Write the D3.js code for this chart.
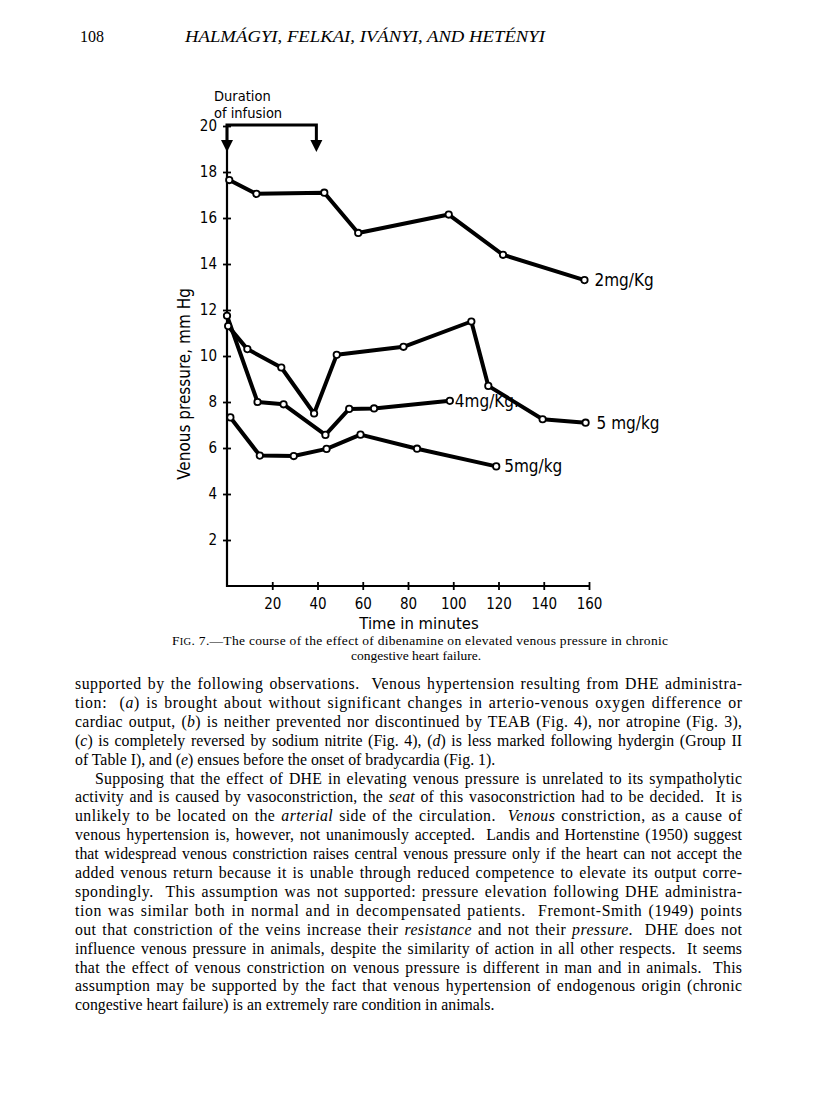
<!DOCTYPE html>
<html>
<head>
<meta charset="utf-8">
<script src="https://cdn.jsdelivr.net/npm/d3@7"></script>
<style>
  body { margin: 0; background: #fff; }
  svg { display: block; }
</style>
</head>
<body>
<div id="page"></div>
<script>
// data
const seriesNames = ["2mg/Kg", "5 mg/kg", "4mg/Kg.", "5mg/kg"];
const timesA = [1, 13, 43, 58, 98, 122, 158];
const valuesA = [17.65, 17.05, 17.1, 15.35, 16.15, 14.4, 13.3];
const timesB = [0.5, 9, 24, 38.5, 48.5, 78, 108, 115.5, 139.5, 158.5];
const valuesB = [11.3, 10.3, 9.5, 7.5, 10.05, 10.4, 11.5, 8.7, 7.25, 7.1];
const timesC = [0, 13.5, 25, 43.5, 54, 65, 98.5];
const valuesC = [11.75, 8.0, 7.9, 6.57, 7.7, 7.72, 8.05];
const timesD = [1.5, 14.5, 29.5, 44, 59, 84, 119];
const valuesD = [7.33, 5.67, 5.65, 5.96, 6.58, 5.97, 5.2];
const xTicks = [20, 40, 60, 80, 100, 120, 140, 160];
const yTicks = [2, 4, 6, 8, 10, 12, 14, 16, 18, 20];
const infusion = [0, 39.5];

const bodyLines = [
  "supported by the following observations.  Venous hypertension resulting from DHE administra-",
  "tion:  (<i>a</i>) is brought about without significant changes in arterio-venous oxygen difference or",
  "cardiac output, (<i>b</i>) is neither prevented nor discontinued by TEAB (Fig. 4), nor atropine (Fig. 3),",
  "(<i>c</i>) is completely reversed by sodium nitrite (Fig. 4), (<i>d</i>) is less marked following hydergin (Group II",
  "of Table I), and (<i>e</i>) ensues before the onset of bradycardia (Fig. 1).",
  "Supposing that the effect of DHE in elevating venous pressure is unrelated to its sympatholytic",
  "activity and is caused by vasoconstriction, the <i>seat</i> of this vasoconstriction had to be decided.  It is",
  "unlikely to be located on the <i>arterial</i> side of the circulation.  <i>Venous</i> constriction, as a cause of",
  "venous hypertension is, however, not unanimously accepted.  Landis and Hortenstine (1950) suggest",
  "that widespread venous constriction raises central venous pressure only if the heart can not accept the",
  "added venous return because it is unable through reduced competence to elevate its output corre-",
  "spondingly.  This assumption was not supported: pressure elevation following DHE administra-",
  "tion was similar both in normal and in decompensated patients.  Fremont-Smith (1949) points",
  "out that constriction of the veins increase their <i>resistance</i> and not their <i>pressure</i>.  DHE does not",
  "influence venous pressure in animals, despite the similarity of action in all other respects.  It seems",
  "that the effect of venous constriction on venous pressure is different in man and in animals.  This",
  "assumption may be supported by the fact that venous hypertension of endogenous origin (chronic",
  "congestive heart failure) is an extremely rare condition in animals."
];
const lastLines = [4, 17];
const indentLines = [5];

const series = [
  { name: seriesNames[0], t: timesA, v: valuesA, dx: 10, dy: 1 },
  { name: seriesNames[1], t: timesB, v: valuesB, dx: 11, dy: 1 },
  { name: seriesNames[2], t: timesC, v: valuesC, dx: 5, dy: 1 },
  { name: seriesNames[3], t: timesD, v: valuesD, dx: 8, dy: 1 }
];

const W = 816, H = 1116;
const svg = d3.select('#page').append('svg')
  .attr('width', W).attr('height', H)
  .attr('viewBox', `0 0 ${W} ${H}`);
svg.append('rect').attr('width', W).attr('height', H).attr('fill', '#fff');

const serif = "'Liberation Serif', 'Times New Roman', serif";
const hand = "'DejaVu Sans Condensed', 'DejaVu Sans', sans-serif";

// running head
svg.append('text')
  .attr('x', 80).attr('y', 42)
  .attr('font-family', serif).attr('font-size', 16)
  .text('108');
svg.append('text')
  .attr('x', 185).attr('y', 42)
  .attr('font-family', serif).attr('font-size', 16.5)
  .attr('font-style', 'italic')
  .attr('textLength', 360).attr('lengthAdjust', 'spacingAndGlyphs')
  .text('HALMÁGYI, FELKAI, IVÁNYI, AND HETÉNYI');

// scales
const x = d3.scaleLinear().domain([0, 160]).range([227, 589]);
const y = d3.scaleLinear().domain([0, 20]).range([586, 126]);

const chart = svg.append('g');

// y axis
const yAxis = chart.append('g')
  .attr('transform', `translate(${x(0)},0)`)
  .call(d3.axisLeft(y).tickValues(yTicks).tickSize(4).tickPadding(6).tickSizeOuter(0));
yAxis.select('.domain').attr('stroke', '#000').attr('stroke-width', 2.2)
  .attr('d', `M0,${y(0) + 1}V${y(20) - 1}`);
yAxis.selectAll('.tick line').attr('x1', -4).attr('x2', 4).attr('stroke-width', 1.8);
yAxis.selectAll('.tick text')
  .attr('font-family', hand).attr('font-size', 15).attr('fill', '#000');

// x axis
const xAxis = chart.append('g')
  .attr('transform', `translate(0,${y(0)})`)
  .call(d3.axisBottom(x).tickValues(xTicks).tickSize(4).tickPadding(8).tickSizeOuter(0));
xAxis.select('.domain').attr('stroke', '#000').attr('stroke-width', 2.2)
  .attr('d', `M${x(0) - 1},0H${x(160)}`);
xAxis.selectAll('.tick line').attr('y1', -4).attr('y2', 4).attr('stroke-width', 1.8);
xAxis.selectAll('.tick text')
  .attr('font-family', hand).attr('font-size', 15).attr('fill', '#000');

// axis titles
svg.append('text')
  .attr('x', 419).attr('y', 629)
  .attr('text-anchor', 'middle')
  .attr('font-family', hand).attr('font-size', 16.5)
  .text('Time in minutes');
svg.append('text')
  .attr('transform', 'translate(190,384) rotate(-90)')
  .attr('text-anchor', 'middle')
  .attr('font-family', hand).attr('font-size', 17)
  .text('Venous pressure, mm Hg');

// duration of infusion bracket
svg.append('text')
  .attr('x', 214).attr('y', 101)
  .attr('font-family', hand).attr('font-size', 14.5)
  .text('Duration');
svg.append('text')
  .attr('x', 214).attr('y', 118)
  .attr('font-family', hand).attr('font-size', 14.5)
  .text('of infusion');
const bx0 = x(infusion[0]), bx1 = x(infusion[1]);
const by = y(20) - 1, tipY = 152;
svg.append('path')
  .attr('d', `M${bx0},${tipY - 10}V${by}H${bx1}V${tipY - 10}`)
  .attr('fill', 'none').attr('stroke', '#000').attr('stroke-width', 3);
[bx0, bx1].forEach(bx => {
  svg.append('path')
    .attr('d', `M${bx - 6},${tipY - 12}L${bx + 6},${tipY - 12}L${bx},${tipY}Z`)
    .attr('fill', '#000');
});

// series lines
const line = d3.line()
  .x(d => x(d[0]))
  .y(d => y(d[1]));

series.forEach(s => {
  const pts = s.t.map((t, i) => [t, s.v[i]]);
  chart.append('path')
    .datum(pts)
    .attr('d', line)
    .attr('fill', 'none')
    .attr('stroke', '#000')
    .attr('stroke-width', 4)
    .attr('stroke-linejoin', 'round');
});
series.forEach(s => {
  const pts = s.t.map((t, i) => [t, s.v[i]]);
  chart.selectAll(null)
    .data(pts)
    .enter()
    .append('circle')
    .attr('cx', d => x(d[0]))
    .attr('cy', d => y(d[1]))
    .attr('r', 3.2)
    .attr('fill', '#fff')
    .attr('stroke', '#000')
    .attr('stroke-width', 1.8);
  const last = pts[pts.length - 1];
  chart.append('text')
    .attr('x', x(last[0]) + s.dx)
    .attr('y', y(last[1]) + s.dy)
    .attr('dominant-baseline', 'middle')
    .attr('font-family', hand).attr('font-size', 17)
    .text(s.name);
});

// caption
const cap = svg.append('text')
  .attr('x', 172).attr('y', 645)
  .attr('font-family', serif).attr('font-size', 13.5)
  .attr('textLength', 496).attr('lengthAdjust', 'spacing');
cap.append('tspan').text('F');
cap.append('tspan').attr('font-size', 10.5).text('IG');
cap.append('tspan').text('. 7.—The course of the effect of dibenamine on elevated venous pressure in chronic');
svg.append('text')
  .attr('x', 416).attr('y', 660)
  .attr('text-anchor', 'middle')
  .attr('font-family', serif).attr('font-size', 13.5)
  .text('congestive heart failure.');

// body text, justified: a little wider word gaps, the rest spread over letters
const textTop = 689, lh = 18.9, left = 75, right = 742;
bodyLines.forEach((ln, i) => {
  const indent = indentLines.includes(i) ? 20 : 0;
  const t = svg.append('text')
    .attr('x', left + indent)
    .attr('y', textTop + i * lh)
    .attr('font-family', serif).attr('font-size', 15.8)
    .attr('xml:space', 'preserve');
  ln.split(/(<i>.*?<\/i>)/).forEach(part => {
    if (!part) return;
    if (part.startsWith('<i>')) {
      t.append('tspan').attr('font-style', 'italic').text(part.slice(3, -4));
    } else {
      t.append('tspan').text(part);
    }
  });
  if (!lastLines.includes(i)) {
    const target = right - left - indent;
    const natural = t.node().getComputedTextLength();
    const gaps = (ln.replace(/<\/?i>/g, '').match(/ /g) || []).length;
    if (gaps > 0 && natural < target) {
      t.style('word-spacing', Math.min(1.6, (target - natural) / gaps) + 'px');
    }
    t.attr('textLength', target).attr('lengthAdjust', 'spacing');
  }
});
</script>
</body>
</html>
